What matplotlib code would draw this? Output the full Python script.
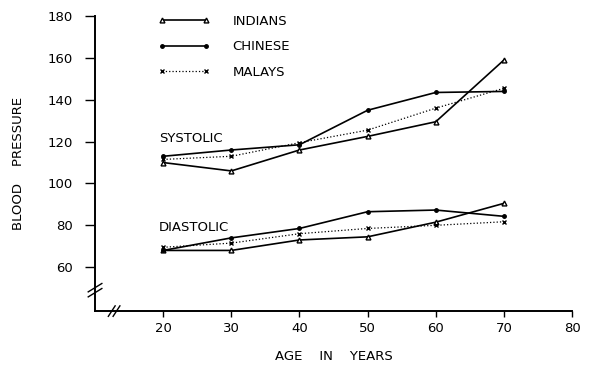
import numpy as np
import matplotlib
matplotlib.use('Agg')
import matplotlib.pyplot as plt

ages = [20, 30, 40, 50, 60, 70]

# systolic blood pressure
indians_sys = [110, 106, 116, 122.5, 129.5, 159]
chinese_sys = [113, 116, 118.5, 135, 143.5, 144]
malays_sys = [111.5, 113, 119.5, 125.5, 136, 145.5]

# diastolic blood pressure
indians_dia = [68, 68, 73, 74.5, 81.5, 90.5]
chinese_dia = [68, 74, 78.5, 86.5, 87.3, 84.3]
malays_dia = [69.5, 71.5, 76, 78.5, 80, 81.7]

x_ticks = [20, 30, 40, 50, 60, 70, 80]
y_ticks = [60, 80, 100, 120, 140, 160, 180]

plt.rcParams['font.family'] = 'DejaVu Sans'
fig = plt.figure(figsize=(5.94, 3.66), dpi=100)
ax = fig.add_axes([0.16, 0.150, 0.803, 0.806])

styles = {
    'INDIANS': dict(marker='^', ms=3.5, mfc='white', mec='black', ls='-', lw=1.2),
    'CHINESE': dict(marker='o', ms=2.5, mfc='black', mec='black', ls='-', lw=1.2),
    'MALAYS': dict(marker='x', ms=3.5, mec='black', mew=1.0, ls=':', lw=0.9),
}

for name, sys_vals, dia_vals in [('INDIANS', indians_sys, indians_dia),
                                 ('CHINESE', chinese_sys, chinese_dia),
                                 ('MALAYS', malays_sys, malays_dia)]:
    ax.plot(ages, sys_vals, color='black', label=name, **styles[name])
    ax.plot(ages, dia_vals, color='black', **styles[name])

ax.set_xlim(10, 80)
ax.set_ylim(39, 180)
ax.set_xticks(x_ticks)
ax.set_yticks(y_ticks)
ax.tick_params(direction='out', width=1, labelsize=9.5)
ax.tick_params(axis='x', length=4, pad=4)
ax.tick_params(axis='y', length=7, pad=9)
for s in ['top', 'right']:
    ax.spines[s].set_visible(False)
for s in ['left', 'bottom']:
    ax.spines[s].set_linewidth(1.4)

# axis break marks
for dx in [-0.35, 0.35]:
    ax.plot([12.3 + dx, 13.3 + dx], [36.5, 41.5], color='black', lw=1, clip_on=False)
for dy in [-1.2, 1.2]:
    ax.plot([9.0, 11.0], [47 + dy, 51 + dy], color='black', lw=1, clip_on=False)

ax.text(19.4, 121.5, 'SYSTOLIC', fontsize=9.5, va='center', ha='left')
ax.text(19.4, 79, 'DIASTOLIC', fontsize=9.5, va='center', ha='left')

ax.set_xlabel('AGE    IN    YEARS', fontsize=9.5, labelpad=11)
ax.set_ylabel('BLOOD    PRESSURE', fontsize=9.5, labelpad=16)

ax.legend(loc='upper left', bbox_to_anchor=(0.108, 1.045), frameon=False,
          numpoints=2, handlelength=3.9, labelspacing=0.95, handletextpad=1.7,
          fontsize=9.5)

plt.savefig('out.png', dpi=100)
